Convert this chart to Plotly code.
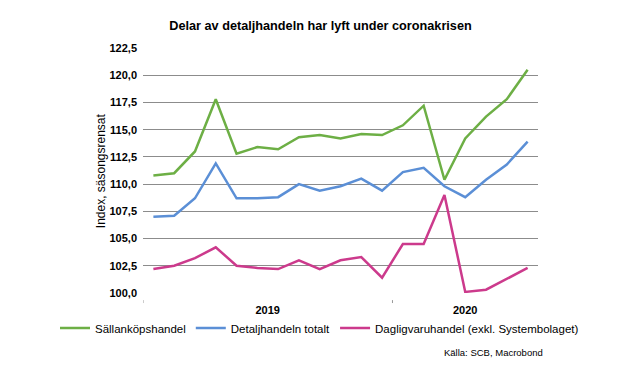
import plotly.graph_objects as go

months = ["2019-01", "2019-02", "2019-03", "2019-04", "2019-05", "2019-06",
          "2019-07", "2019-08", "2019-09", "2019-10", "2019-11", "2019-12",
          "2020-01", "2020-02", "2020-03", "2020-04", "2020-05", "2020-06", "2020-07"]

sallankop = [110.8, 111.0, 113.0, 117.8, 112.8, 113.4, 113.2, 114.3, 114.5, 114.2,
             114.6, 114.5, 115.4, 117.2, 110.4, 114.2, 116.2, 117.8, 120.5]
detalj = [107.0, 107.1, 108.7, 111.9, 108.7, 108.7, 108.8, 110.0, 109.4, 109.8,
          110.5, 109.4, 111.1, 111.5, 109.8, 108.8, 110.4, 111.8, 113.9]
dagligvaru = [102.2, 102.5, 103.2, 104.2, 102.5, 102.3, 102.2, 103.0, 102.2, 103.0,
              103.3, 101.4, 104.5, 104.5, 109.0, 100.1, 100.3, 101.3, 102.3]

series_names = ["Sällanköpshandel", "Detaljhandeln totalt", "Dagligvaruhandel (exkl. Systembolaget)"]
colors = ["#6DAF45", "#5B8FD6", "#CC3A8C"]

title_text = "Delar av detaljhandeln har lyft under coronakrisen"
y_title = "Index, säsongsrensat"
source_text = "Källa: SCB, Macrobond"
years = ["2019", "2020"]

FONT = "Liberation Sans, Arial, sans-serif"

x = list(range(len(months)))
fig = go.Figure()
for name, vals, col in zip(series_names, [sallankop, detalj, dagligvaru], colors):
    fig.add_trace(go.Scatter(x=x, y=vals, mode="lines", name=name,
                             line=dict(color=col, width=2.5)))

year_idx = {y: [i for i, m in enumerate(months) if m.startswith(y)] for y in years}
year_centres = [(min(v) + max(v)) / 2 for v in year_idx.values()]
year_starts = [min(v) - 0.5 for v in year_idx.values()]

for xs in year_starts:
    fig.add_shape(type="line", xref="x", yref="paper", x0=xs, x1=xs,
                  y0=-0.029, y1=-0.041, line=dict(color="#999999", width=1))

fig.update_layout(
    width=641, height=376,
    margin=dict(l=143, r=103, t=48, b=83, autoexpand=False),
    paper_bgcolor="white", plot_bgcolor="white",
    separators=", ",
    font=dict(family=FONT, color="#000000"),
    title=dict(text=title_text, x=0.5, xref="container", xanchor="center",
               y=1 - 26 / 376, yref="container", yanchor="middle",
               font=dict(size=12.7, family=FONT, weight="bold", color="#000")),
    showlegend=True,
    legend=dict(orientation="h", x=(55 - 143) / 395, xanchor="left", xref="paper",
                y=(293 - 328) / 245, yanchor="middle",
                font=dict(size=11.5, family=FONT, color="#000"),
                itemwidth=30, tracegroupgap=0, bgcolor="rgba(0,0,0,0)"),
    xaxis=dict(range=[-0.5, len(months) - 0.5], tickmode="array",
               tickvals=year_centres, ticktext=years, ticks="", tickangle=0,
               showgrid=False, zeroline=False, showline=False,
               ticklabelstandoff=9,
               tickfont=dict(size=11, family=FONT, weight="bold", color="#000")),
    yaxis=dict(range=[100, 122.5], tickmode="linear", tick0=100, dtick=2.5,
               tickformat=".1f", showgrid=True, gridcolor="#8c8c8c", gridwidth=1,
               zeroline=False, showline=False, ticks="", ticklabelstandoff=5,
               tickfont=dict(size=11, family=FONT, weight="bold", color="#000")),
    annotations=[
        dict(text=y_title, textangle=-90, xref="paper", yref="paper",
             x=(100.7 - 143) / 395, y=0.5, xanchor="center", yanchor="middle",
             showarrow=False, font=dict(size=12, family=FONT, color="#000")),
        dict(text=source_text, xref="paper", yref="paper",
             x=(545 - 143) / 395, y=(293 - 352) / 245, xanchor="right",
             yanchor="middle", showarrow=False,
             font=dict(size=9.5, family=FONT, color="#000")),
    ],
)

fig.write_html("out.html", config={"displayModeBar": False},
               post_script="document.body.style.margin='0px';document.body.style.overflow='hidden';")
